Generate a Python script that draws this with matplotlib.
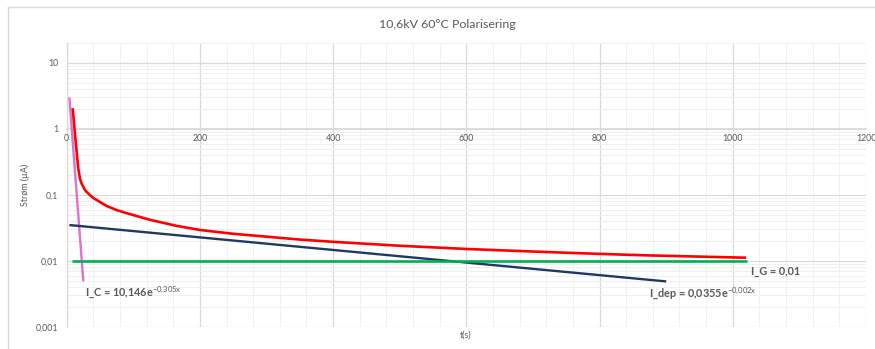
import matplotlib
matplotlib.use("Agg")
import matplotlib.pyplot as plt
from matplotlib.lines import Line2D
from matplotlib.ticker import FixedLocator, NullFormatter
from matplotlib.transforms import offset_copy

plt.rcParams['font.family'] = ['Lato', 'DejaVu Sans']
plt.rcParams['mathtext.fontset'] = 'custom'
plt.rcParams['mathtext.rm'] = 'Lato'
plt.rcParams['mathtext.bf'] = 'Lato:bold'

# Measured polarisation current (µA) against time (s)
t_meas = [9, 13, 17.4, 20, 22.5, 27.5, 35, 40, 50, 60, 75, 90, 125, 165, 200, 250,
          350, 400, 500, 600, 700, 771, 865, 1020]
i_meas = [2.06, 0.72, 0.25, 0.175, 0.148, 0.118, 0.099, 0.090, 0.078, 0.068, 0.059, 0.053,
          0.042, 0.034, 0.0295, 0.0258, 0.0211, 0.0195, 0.0170, 0.0152, 0.0139,
          0.0131, 0.0122, 0.0112]

# Fitted components (end points of each straight line on the log axis)
t_c = [4, 25]
i_c = [3.0, 0.0049]
t_dep = [4, 900]
i_dep = [0.035, 0.0049]
t_g = [8, 1022]
i_g = [0.01, 0.01]

label_c = r"I_C = 10,146e$^{\mathrm{-0{,}305x}}$"
label_dep = r"I_dep = 0,0355e$^{\mathrm{-0{,}002x}}$"
label_g = "I_G = 0,01"

x_ticks = [0, 200, 400, 600, 800, 1000, 1200]
y_ticks = [0.001, 0.01, 0.1, 1, 10]
y_tick_labels = ["0,001", "0,01", "0,1", "1", "10"]

W, H = 875, 349
fig = plt.figure(figsize=(W / 100, H / 100), dpi=100)
fig.patch.set_facecolor("white")

# chart-area frame
frame_col = "#d9d9d9"
fig.add_artist(Line2D([8 / W, 8 / W], [0, 1 - 7 / H], transform=fig.transFigure,
                      color=frame_col, lw=1.0))
fig.add_artist(Line2D([8 / W, 1], [1 - 7 / H, 1 - 7 / H], transform=fig.transFigure,
                      color=frame_col, lw=1.0))

left, right, top, bottom = 66.7, 866, 43, 327
ax = fig.add_axes([left / W, 1 - bottom / H, (right - left) / W, (bottom - top) / H])
ax.set_yscale("log")
ax.set_xlim(0, 1200)
ax.set_ylim(0.001, 20)

major_col = "#d9d9d9"
minor_col = "#f0f0f0"
ax.xaxis.set_major_locator(FixedLocator(x_ticks))
ax.xaxis.set_minor_locator(FixedLocator(list(range(0, 1201, 40))))
ax.yaxis.set_major_locator(FixedLocator(y_ticks))
minor_y = [m * 10.0 ** e for e in range(-3, 2) for m in range(2, 10) if m * 10.0 ** e <= 20]
ax.yaxis.set_minor_locator(FixedLocator(minor_y))
ax.yaxis.set_minor_formatter(NullFormatter())
ax.set_yticklabels(y_tick_labels)
ax.tick_params(axis="x", labelbottom=False)

ax.grid(True, which="minor", color=minor_col, lw=0.7)
ax.grid(True, which="major", color=major_col, lw=0.9)
ax.set_axisbelow(True)

for s in ("top", "right"):
    ax.spines[s].set_visible(False)
ax.spines["left"].set_color(major_col)
ax.spines["left"].set_linewidth(0.9)
ax.spines["bottom"].set_position(("data", 1))
ax.spines["bottom"].set_color(major_col)
ax.spines["bottom"].set_linewidth(1.2)

ax.tick_params(axis="both", which="both", length=0, colors="#595959", labelsize=6.3)
ax.tick_params(axis="y", pad=6)

# horizontal axis crosses at 1, so its labels sit just under that line
lbl_tr = offset_copy(ax.transData, fig=fig, x=0, y=-4, units="points")
for v in x_ticks:
    ax.text(v, 1, str(v), transform=lbl_tr, ha="center", va="top", color="#595959",
            fontsize=6.3, zorder=6, clip_on=False)

ax.plot(t_meas, i_meas, color="#ff0000", lw=1.9, solid_capstyle="butt", zorder=4)
ax.plot(t_c, i_c, color="#e070d0", lw=1.7, solid_capstyle="butt", zorder=3)
ax.plot(t_dep, i_dep, color="#203864", lw=1.7, solid_capstyle="butt", zorder=3)
ax.plot(t_g, i_g, color="#00b050", lw=1.9, solid_capstyle="butt", zorder=3)

txt_kw = dict(color="#595959", fontsize=7.8, fontweight="bold", va="center", ha="left")
ax.text(28, 0.00335, label_c, **txt_kw)
ax.text(874, 0.00330, label_dep, **txt_kw)
ax.text(1028, 0.0070, label_g, **txt_kw)

fig.text(447 / W, 1 - 24 / H, "10,6kV 60°C Polarisering", ha="center", va="center",
         color="#595959", fontsize=8.9)
fig.text(466 / W, 1 - 335 / H, "t(s)", ha="center", va="center", color="#595959",
         fontsize=6.4)
fig.text(25 / W, 1 - 185 / H, "Strøm (µA)", ha="center", va="center", rotation=90,
         color="#595959", fontsize=6.4)

fig.savefig("out.png", dpi=100, facecolor="white")
